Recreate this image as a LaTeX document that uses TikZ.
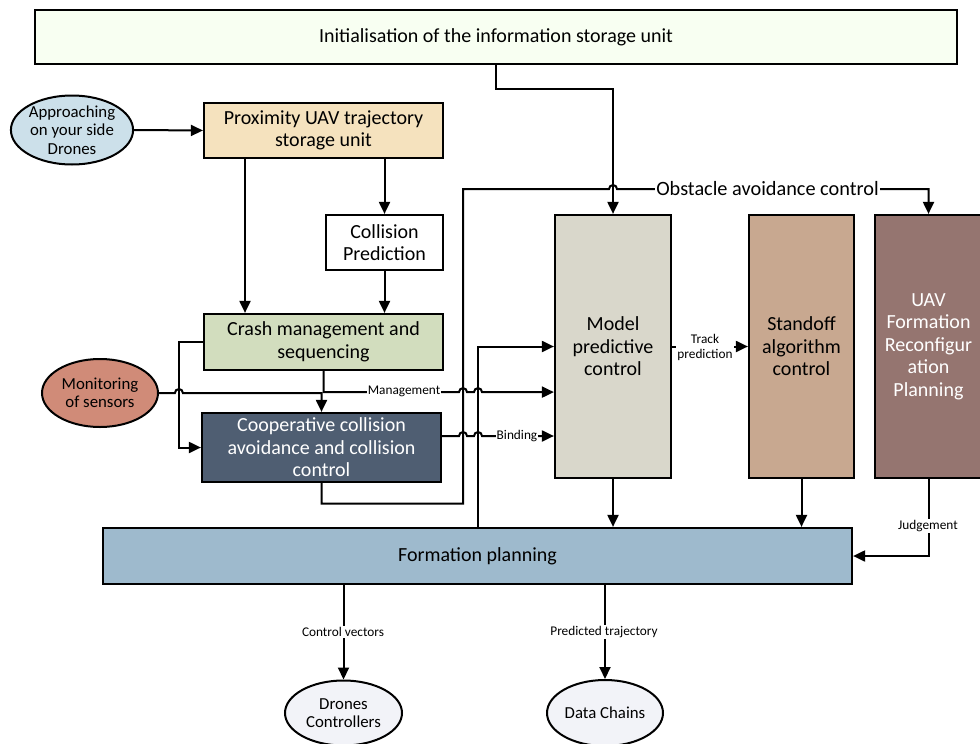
\documentclass[tikz,border=0pt]{standalone}
\usepackage{fontspec}
\setmainfont{Carlito}
\usetikzlibrary{arrows.meta,shapes.geometric,calc}
\definecolor{topc}{HTML}{F8FFF2}
\definecolor{apprc}{HTML}{CCE0EA}
\definecolor{proxc}{HTML}{F5E2BE}
\definecolor{crashc}{HTML}{D2DDBE}
\definecolor{coopc}{HTML}{4F5E72}
\definecolor{monc}{HTML}{D08B78}
\definecolor{mpcc}{HTML}{D9D7CB}
\definecolor{sac}{HTML}{C8A890}
\definecolor{uavc}{HTML}{957570}
\definecolor{formc}{HTML}{9EBACD}
\definecolor{ellc}{HTML}{F2F3F8}
\begin{document}
\begin{tikzpicture}[x=1pt,y=-1pt,
  box/.style={draw=black,line width=2.2pt,align=center,inner sep=2pt,font=\fontsize{20}{22.5}\selectfont},
  ell/.style={ellipse,draw=black,line width=2pt,align=center,inner sep=0pt,font=\fontsize{16.8}{18.5}\selectfont},
  conn/.style={line width=2pt},
  arr/.style={conn,-{Triangle[length=12pt,width=11pt]}},
  lbl/.style={fill=white,inner sep=1pt,font=\fontsize{13.3}{15}\selectfont}]
\useasboundingbox (0,0) rectangle (980,744);

% nodes
\node[box,fill=topc,minimum width=922,minimum height=54] (init) at (496,37) {Initialisation of the information storage unit};
\node[ell,fill=apprc,minimum width=118,minimum height=66] (appr) at (72,130) {Approaching\\on your side\\Drones};
\node[box,fill=proxc,minimum width=239,minimum height=55] (prox) at (323.5,130.5) {Proximity UAV trajectory\\storage unit};
\node[box,fill=white,minimum width=117,minimum height=55] (coll) at (384.5,242.5) {Collision\\Prediction};
\node[box,fill=crashc,minimum width=239,minimum height=56] (crash) at (323.5,342) {Crash management and\\sequencing};
\node[box,fill=coopc,text=white,minimum width=239,minimum height=69] (coop) at (321.5,447.5) {Cooperative collision\\avoidance and collision\\control};
\node[ell,fill=monc,minimum width=116,minimum height=68] (mon) at (100,393) {Monitoring\\of sensors};
\node[box,fill=mpcc,minimum width=116,minimum height=263] (mpc) at (613,346.5) {Model\\predictive\\control};
\node[box,fill=sac,minimum width=105,minimum height=263] (sa) at (801.5,346.5) {Standoff\\algorithm\\control};
\node[box,fill=uavc,text=white,minimum width=107,minimum height=263] (uav) at (928.5,346.5) {UAV\\Formation\\Reconfigur\\ation\\Planning};
\node[box,fill=formc,minimum width=749,minimum height=56] (form) at (477.5,556) {Formation planning};
\node[ell,fill=ellc,minimum width=117,minimum height=65] (drones) at (343.5,713) {Drones\\Controllers};
\node[ell,fill=ellc,minimum width=116,minimum height=66] (data) at (605,713) {Data Chains};

% helper coordinates
\coordinate (vL) at ($(crash.west)+(-24,0)$);
\coordinate (v1) at (463,0);
\coordinate (v2) at (478,0);
\coordinate (ob) at (0,189);
\coordinate (mg) at ($(crash.south)+(0,21)$);
\coordinate (bd) at ([yshift=11.5pt]coop.east);

% connectors
\draw[arr] (appr.east) -- (prox.west);
\draw[arr] (prox.south -| 245,0) -- (crash.north -| 245,0);
\draw[arr] (prox.south -| coll.north) -- (coll.north);
\draw[arr] (coll.south) -- (crash.north -| coll.south);
\draw[arr] (crash.west) -- (vL) |- (coop.west);
\draw[arr] (mon.east) -- ([xshift=-4pt]vL |- mon.east) arc(180:360:4) -| (coop.north);
\draw[arr] (crash.south) -- (mg) -- ([xshift=-4pt]v1 |- mg) arc(180:360:4) -- ([xshift=-4pt]v2 |- mg) arc(180:360:4) -- (mpc.west |- mg);
\draw[arr] (bd) -- ([xshift=-4pt]v1 |- bd) arc(180:360:4) -- ([xshift=-4pt]v2 |- bd) arc(180:360:4) -- (mpc.west |- bd);
\draw[arr] (coop.south) -- ++(0,20.5) -| (v1 |- ob) -- ([xshift=-4pt]mpc.north |- ob) arc(180:360:4) -- (uav.north |- ob) -- (uav.north);
\draw[arr] (init.south) -- ++(0,24) -| (mpc.north);
\draw[arr] (v2 |- form.north) |- (mpc.west);
\draw[arr] (mpc.east) -- (sa.west);
\draw[arr] (mpc.south) -- (form.north -| mpc.south);
\draw[arr] (sa.south) -- (form.north -| sa.south);
\draw[arr] (uav.south) |- (form.east);
\draw[arr] (form.south -| drones.north) -- (drones.north);
\draw[arr] (form.south -| data.north) -- (data.north);

% labels
\node[lbl] at (404,391) {Management};
\node[lbl] at (517,436) {Binding};
\node[lbl,font=\fontsize{20.3}{22}\selectfont] at (767.5,189) {Obstacle avoidance control};
\node[lbl,align=center,font=\fontsize{13.3}{15}\selectfont] at (705,347) {Track\\prediction};
\node[lbl] at (928,526) {Judgement};
\node[lbl] at (343,632) {Control vectors};
\node[lbl] at (604,632) {Predicted trajectory};
\end{tikzpicture}
\end{document}
